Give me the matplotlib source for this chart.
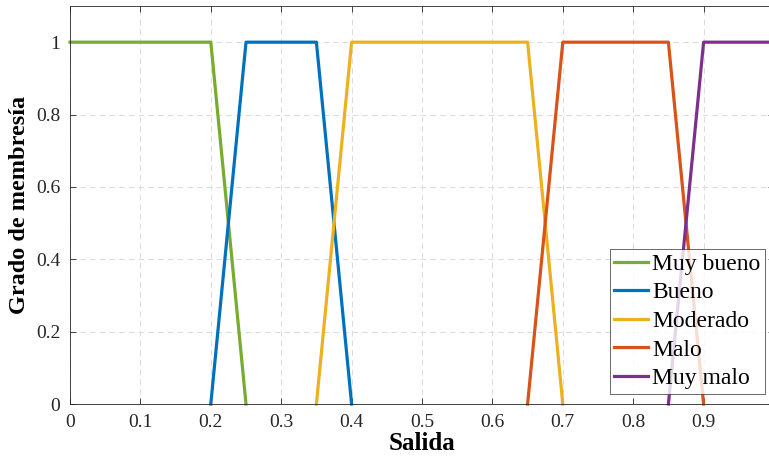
import matplotlib.pyplot as plt

plt.rcParams["font.family"] = ["Liberation Serif", "DejaVu Serif"]

labels = ["Muy bueno", "Bueno", "Moderado", "Malo", "Muy malo"]
x_points = [
    [0.0, 0.2, 0.25],
    [0.2, 0.25, 0.35, 0.4],
    [0.35, 0.4, 0.65, 0.7],
    [0.65, 0.7, 0.85, 0.9],
    [0.85, 0.9, 1.0],
]
y_points = [
    [1, 1, 0],
    [0, 1, 1, 0],
    [0, 1, 1, 0],
    [0, 1, 1, 0],
    [0, 1, 1],
]
colors = ["#77AC30", "#0072BD", "#EDB120", "#D95319", "#7E2F8E"]

fig = plt.figure(figsize=(7.69, 4.61), dpi=100)
ax = fig.add_axes([70 / 769, 57 / 461, 704 / 769, 398 / 461])

for xs, ys, c, lab in zip(x_points, y_points, colors, labels):
    ax.plot(xs, ys, color=c, linewidth=2.3, label=lab, clip_on=False)

ax.set_xlim(0, 1)
ax.set_ylim(0, 1.1)
ax.set_xticks([0, 0.1, 0.2, 0.3, 0.4, 0.5, 0.6, 0.7, 0.8, 0.9])
ax.set_xticklabels(["0", "0.1", "0.2", "0.3", "0.4", "0.5", "0.6", "0.7", "0.8", "0.9"])
ax.set_yticks([0, 0.2, 0.4, 0.6, 0.8, 1])
ax.set_yticklabels(["0", "0.2", "0.4", "0.6", "0.8", "1"])
ax.tick_params(direction="in", length=4, width=0.6, colors="#262626", labelsize=14,
               top=True, right=True, pad=7)
for s in ax.spines.values():
    s.set_color("#262626")
    s.set_linewidth(0.6)
ax.grid(True, linestyle=(0, (6, 4)), color="#dcdcdc", linewidth=0.7)
ax.set_axisbelow(True)

ax.set_xlabel("Salida", fontsize=18, fontweight="bold", labelpad=1)
ax.set_ylabel("Grado de membresía", fontsize=17.5, fontweight="bold", labelpad=4)

leg = ax.legend(loc="lower right", bbox_to_anchor=(765 / 769, 67 / 461),
                bbox_transform=fig.transFigure, fontsize=17, frameon=True,
                fancybox=False, edgecolor="#262626", handlelength=1.45,
                handletextpad=0.15, borderpad=0.2, labelspacing=0.3, borderaxespad=0)
leg.get_frame().set_linewidth(0.6)

fig.savefig("out.png", dpi=100, facecolor="white")
